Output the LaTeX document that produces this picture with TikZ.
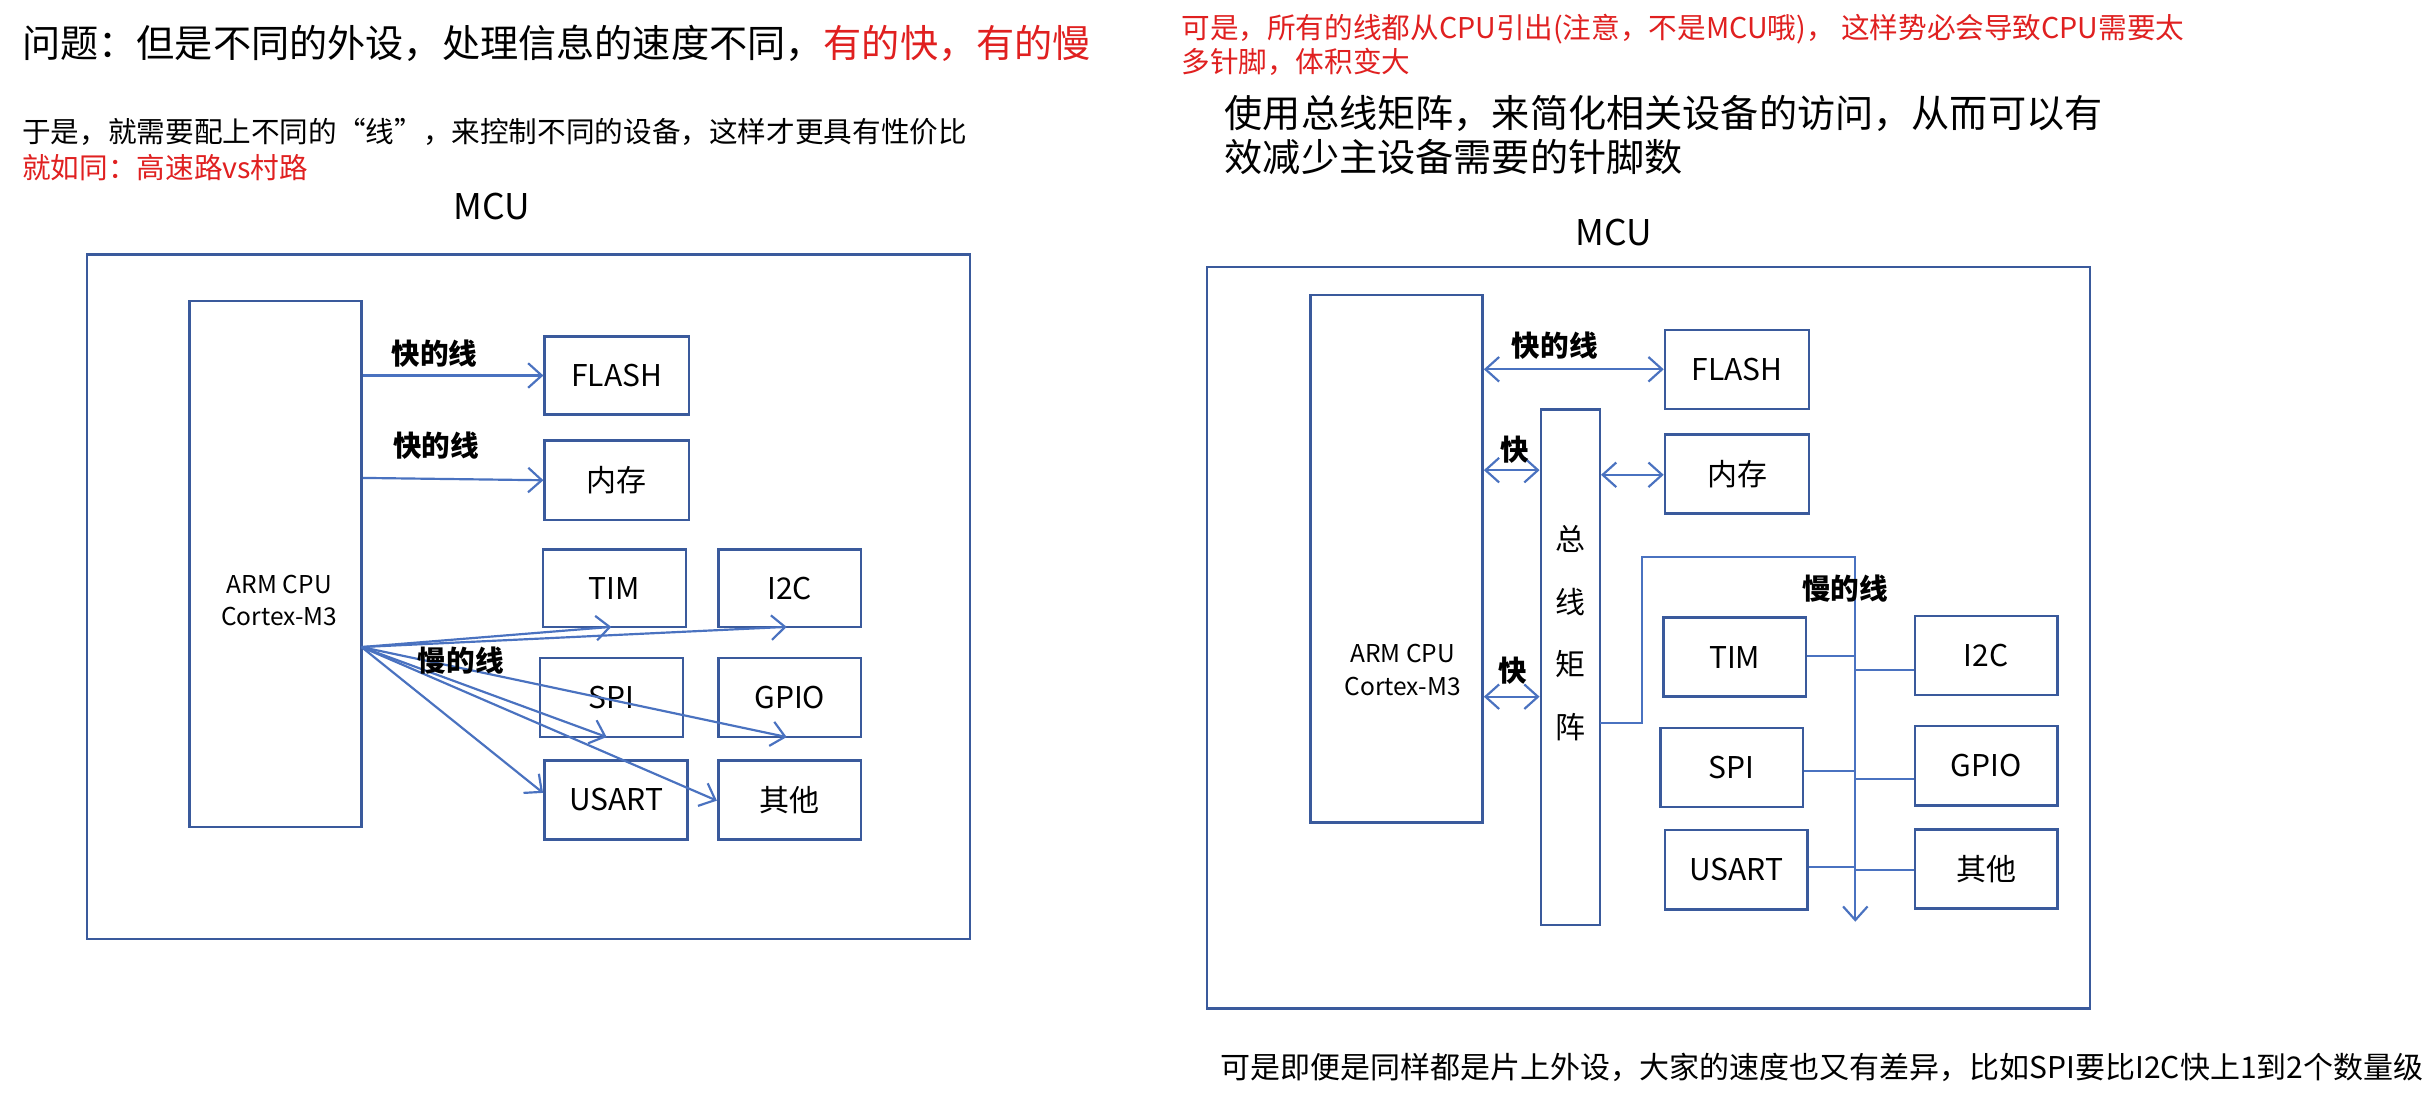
\documentclass[tikz,border=0pt]{standalone}
\usepackage{fontspec}
\setmainfont{Noto Sans CJK SC}
\usetikzlibrary{arrows.meta,calc}
\definecolor{ln}{HTML}{4A72C0}
\definecolor{bx}{HTML}{3A5A9C}
\definecolor{rd}{HTML}{E02020}
\begin{document}
\begin{tikzpicture}[x=0.02cm,y=-0.02cm,
  box/.style={draw=bx,line width=0.9pt,inner sep=0pt},
  lbl/.style={font=\fontsize{11}{13}\selectfont},
  wire/.style={draw=ln,line width=0.8pt},
  arr/.style={wire,-{Straight Barb[length=5pt,width=9pt]}},
  darr/.style={wire,{Straight Barb[length=5pt,width=9pt]}-{Straight Barb[length=5pt,width=9pt]}},
  bl/.style={font=\fontsize{10.5}{12}\selectfont\bfseries},
  txt/.style={anchor=west,inner sep=0pt,font=\fontsize{10.5}{12}\selectfont},
  big/.style={txt,font=\fontsize{14}{16}\selectfont}]
\useasboundingbox[fill=white] (0,0) rectangle (1568,706);
% ---------- left ----------
\node[big] (t1) at (14,28) {问题：但是不同的外设，处理信息的速度不同，\textcolor{rd}{有的快，有的慢}};
\node[txt] (t2) at (14,85) {于是，就需要配上不同的“线”，来控制不同的设备，这样才更具有性价比};
\node[txt,text=rd] (t3) at (14,108) {就如同：高速路vs村路};
\node[font=\fontsize{13}{15}\selectfont] (mcu1) at (317,133) {MCU};
\draw[bx,line width=0.9pt] (56,164) rectangle (625,605);
\node[box,minimum width=111*0.02cm,minimum height=339*0.02cm] (cpu1) at (177.5,363.5) {};
\node[align=center,font=\fontsize{9}{12}\selectfont] (cpu1t) at (180,387) {ARM CPU\\Cortex-M3};
\node[box,lbl,minimum width=93*0.02cm,minimum height=50*0.02cm] (flash) at (397.5,242) {FLASH};
\node[box,lbl,minimum width=93*0.02cm,minimum height=51*0.02cm] (ram) at (397.5,309.5) {内存};
\node[box,lbl,minimum width=92*0.02cm,minimum height=50*0.02cm] (tim) at (396,379) {TIM};
\node[box,lbl,minimum width=92*0.02cm,minimum height=50*0.02cm] (i2c) at (509,379) {I2C};
\node[box,lbl,minimum width=92*0.02cm,minimum height=51*0.02cm] (spi) at (394,449.5) {SPI};
\node[box,lbl,minimum width=92*0.02cm,minimum height=51*0.02cm] (gpio) at (509,449.5) {GPIO};
\node[box,lbl,minimum width=92*0.02cm,minimum height=51*0.02cm] (usart) at (397,515.5) {USART};
\node[box,lbl,minimum width=92*0.02cm,minimum height=51*0.02cm] (oth) at (509,515.5) {其他};
\coordinate (s1) at (233,417);
\draw[arr] (cpu1.east |- flash) -- (flash.west);
\draw[arr] (cpu1.east |- 0,308) -- (ram.west);
\node[bl] (lf1) at (280,228) {快的线};
\node[bl] (lf2) at (281,287) {快的线};
\coordinate (ttim) at (394,404);
\coordinate (ti2c) at (507,404);
\coordinate (tspi) at (391,475);
\coordinate (tgpio) at (507,475);
\coordinate (tus) at (350,511);
\coordinate (toth) at (462,516);
\foreach \t in {ttim,ti2c,tspi,tgpio,tus,toth} \draw[arr] (s1) -- (\t);
\node[bl] (ls1) at (297,426) {慢的线};
% ---------- right ----------
\node[txt,text=rd] (t4) at (761,19) {可是，所有的线都从CPU引出(注意，不是MCU哦)， 这样势必会导致CPU需要太};
\node[txt,text=rd] (t5) at (761,40) {多针脚，体积变大};
\node[big] (t6) at (789,73) {使用总线矩阵，来简化相关设备的访问，从而可以有};
\node[big] (t7) at (789,101) {效减少主设备需要的针脚数};
\node[font=\fontsize{13}{15}\selectfont] (mcu2) at (1040,150) {MCU};
\node[txt,font=\fontsize{11}{13}\selectfont] (t8) at (786,688) {可是即便是同样都是片上外设，大家的速度也又有差异，比如SPI要比I2C快上1到2个数量级};
\draw[bx,line width=0.9pt] (778,172) rectangle (1347,650);
\node[box,minimum width=111*0.02cm,minimum height=340*0.02cm] (cpu2) at (900,360) {};
\node[align=center,font=\fontsize{9}{12}\selectfont] (cpu2t) at (904,432) {ARM CPU\\Cortex-M3};
\node[box,minimum width=38*0.02cm,minimum height=332*0.02cm] (bus) at (1012,430) {};
\node[align=center,font=\fontsize{11}{23}\selectfont] (bust) at (1012,408) {总\\线\\矩\\阵};
\node[box,lbl,minimum width=93*0.02cm,minimum height=51*0.02cm] (flash2) at (1119.5,238) {FLASH};
\node[box,lbl,minimum width=93*0.02cm,minimum height=51*0.02cm] (ram2) at (1119.5,305.5) {内存};
\node[box,lbl,minimum width=92*0.02cm,minimum height=51*0.02cm] (tim2) at (1118,423.5) {TIM};
\node[box,lbl,minimum width=92*0.02cm,minimum height=51*0.02cm] (i2c2) at (1280,422.5) {I2C};
\node[box,lbl,minimum width=92*0.02cm,minimum height=51*0.02cm] (spi2) at (1116,494.5) {SPI};
\node[box,lbl,minimum width=92*0.02cm,minimum height=51*0.02cm] (gpio2) at (1280,493.5) {GPIO};
\node[box,lbl,minimum width=92*0.02cm,minimum height=51*0.02cm] (usart2) at (1119,560.5) {USART};
\node[box,lbl,minimum width=92*0.02cm,minimum height=51*0.02cm] (oth2) at (1280,560) {其他};
\draw[darr] (cpu2.east |- flash2) -- (flash2.west);
\draw[darr] (cpu2.east |- 0,303) -- (bus.west |- 0,303);
\draw[darr] (cpu2.east |- 0,449) -- (bus.west |- 0,449);
\draw[darr] (bus.east |- 0,306) -- (ram2.west |- 0,306);
\node[bl] (lf3) at (1002,223) {快的线};
\node[bl] (lf4) at (976,290) {快};
\node[bl] (lf5) at (975,432) {快};
\coordinate (bs) at (1031,466);
\coordinate (bend) at (1195.7,594);
\draw[arr] (bs) -- (1058,466) -- (1058,359) -- (1195.7,359) -- (bend);
\node[bl] (ls2) at (1189,379) {慢的线};
\draw[wire] (tim2.east |- 0,423) -- (1195.7,423);
\draw[wire] (spi2.east |- 0,497) -- (1195.7,497);
\draw[wire] (usart2.east |- 0,558.7) -- (1195.7,558.7);
\draw[wire] (1195.7,432) -- (i2c2.west |- 0,432);
\draw[wire] (1195.7,502) -- (gpio2.west |- 0,502);
\draw[wire] (1195.7,560.5) -- (oth2.west |- 0,560.5);
\end{tikzpicture}
\end{document}
